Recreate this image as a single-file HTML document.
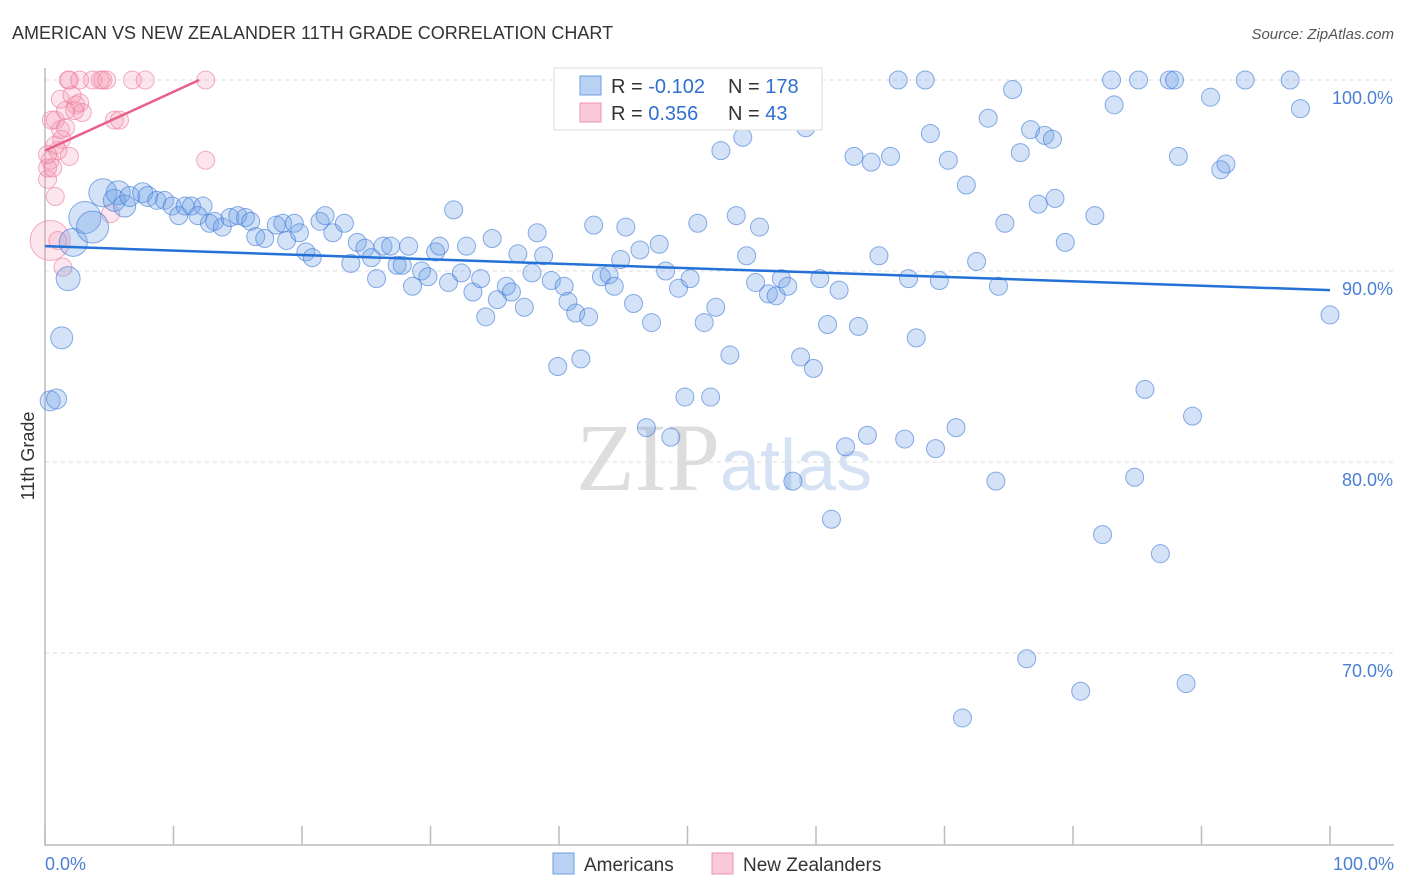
<!DOCTYPE html>
<html><head><meta charset="utf-8">
<style>
body{margin:0;background:#fff;font-family:"Liberation Sans",sans-serif;}
#wrap{position:relative;width:1406px;height:892px;overflow:hidden;}
</style></head>
<body>
<div id="wrap">
<svg id="chart" width="1406" height="892" xmlns="http://www.w3.org/2000/svg">
<text x="12" y="39" font-size="18" fill="#333">AMERICAN VS NEW ZEALANDER 11TH GRADE CORRELATION CHART</text>
<text x="1394" y="39" font-size="15" fill="#555" font-style="italic" text-anchor="end">Source: ZipAtlas.com</text>
<text x="720" y="490" font-size="96" fill="#ddd" font-family="Liberation Serif,serif" text-anchor="end">ZIP</text>
<text x="720" y="490" font-size="72" fill="#d4e2f4" text-anchor="start">atlas</text>
<g id="grid"></g>
<g id="axes"></g>
<g id="pts"></g>
<g id="lines"></g>
<text transform="translate(34,456) rotate(-90)" font-size="18" fill="#333" text-anchor="middle">11th Grade</text>
<text x="45" y="870" font-size="18" fill="#4a7fd4">0.0%</text>
<text x="1394" y="870" font-size="18" fill="#4a7fd4" text-anchor="end">100.0%</text>
<g>
<rect x="554" y="68" width="268" height="62" fill="#fff" stroke="#ddd"/>
<rect x="580" y="76" width="21" height="19" fill="#b9d2f3" stroke="#6d9de0"/>
<rect x="580" y="103" width="21" height="19" fill="#f9c9d7" stroke="#ee94b0"/>
<text x="611" y="93" font-size="20" fill="#333">R = <tspan fill="#2f6fd0">-0.102</tspan></text>
<text x="728" y="93" font-size="20" fill="#333">N = <tspan fill="#2f6fd0">178</tspan></text>
<text x="611" y="120" font-size="20" fill="#333">R = <tspan fill="#2f6fd0"> 0.356</tspan></text>
<text x="728" y="120" font-size="20" fill="#333">N = <tspan fill="#2f6fd0"> 43</tspan></text>
</g>
<g>
<rect x="553" y="853" width="21" height="21" fill="#b9d2f3" stroke="#6d9de0"/>
<text x="584" y="871" font-size="19" fill="#333">Americans</text>
<rect x="712" y="853" width="21" height="21" fill="#f9c9d7" stroke="#ee94b0"/>
<text x="743" y="871" font-size="19" fill="#333">New Zealanders</text>
</g>
</svg>
</div>
<script>
const yTicks=[100,90,80,70];
const yTickLabels=["100.0%","90.0%","80.0%","70.0%"];
const xTicks=[0,10,20,30,40,50,60,70,80,90,100];
const blueX=[0.4,0.9,1.3,1.8,2.2,3.1,3.7,4.5,5.4,5.7,6.2,6.6,7.6,8.0,8.7,9.3,9.9,10.4,10.9,11.4,12.3,11.9,12.8,13.2,13.8,14.4,15.0,15.6,16.0,16.4,17.1,18.0,18.5,18.8,19.4,19.8,20.3,20.8,21.4,21.8,22.4,23.3,23.8,24.3,24.9,25.4,25.8,26.3,26.9,27.4,27.8,28.3,28.6,29.3,29.8,30.4,30.7,31.4,31.8,32.4,32.8,33.3,33.9,34.3,34.8,35.2,35.9,36.3,36.8,37.3,37.9,38.3,38.8,39.4,39.9,40.4,40.7,41.3,41.7,42.3,42.7,43.3,43.9,44.3,44.8,45.2,45.8,46.3,46.8,47.2,47.8,48.3,48.7,49.3,49.8,50.2,50.8,51.3,51.8,52.2,52.6,53.3,53.8,54.3,54.6,55.3,55.6,56.3,56.9,57.3,57.8,58.2,58.8,59.2,59.8,60.3,60.9,61.2,61.8,62.3,62.96,63.3,64.0,64.3,64.9,65.8,66.4,66.9,67.2,67.8,68.5,68.9,69.3,69.6,70.3,70.9,71.4,71.7,72.5,73.4,74.0,74.2,74.7,75.3,75.9,76.4,76.7,77.3,77.8,78.4,78.6,79.4,80.6,81.7,82.3,83.0,83.2,84.8,85.1,85.6,86.8,87.5,87.9,88.2,88.8,89.3,90.7,91.5,91.9,93.4,96.9,97.7,100];
const blueY=[83.2,83.3,86.5,89.6,91.5,92.8,92.3,94.1,93.7,94.1,93.4,93.9,94.1,93.9,93.7,93.7,93.4,92.9,93.4,93.4,93.4,92.9,92.5,92.6,92.3,92.8,92.9,92.8,92.6,91.8,91.7,92.4,92.5,91.6,92.5,92.0,91.0,90.7,92.6,92.9,92.0,92.5,90.4,91.5,91.2,90.7,89.6,91.3,91.3,90.3,90.3,91.3,89.2,90.0,89.7,91.0,91.3,89.4,93.2,89.9,91.3,88.9,89.6,87.6,91.7,88.5,89.2,88.9,90.9,88.1,89.9,92.0,90.8,89.5,85.0,89.2,88.4,87.8,85.4,87.6,92.4,89.7,89.8,89.2,90.6,92.3,88.3,91.1,81.8,87.3,91.4,90.0,81.3,89.1,83.4,89.6,92.5,87.3,83.4,88.1,96.3,85.6,92.9,97.0,90.8,89.4,92.3,88.8,88.7,89.6,89.2,79.0,85.5,97.5,84.9,89.6,87.2,77.0,89.0,80.8,96.0,87.1,81.4,95.7,90.8,96.0,100,81.2,89.6,86.5,100,97.2,80.7,89.5,95.8,81.8,66.6,94.5,90.5,98.0,79.0,89.2,92.5,99.5,96.2,69.7,97.4,93.5,97.1,96.9,93.8,91.5,68.0,92.9,76.2,100,98.7,79.2,100,83.8,75.2,100,100,96.0,68.4,82.4,99.1,95.3,95.6,100,100,98.5,87.7];
const blueSize=[10,10,11,12,14,16,16,14,11,12,11,10,10,10,9,9,9,9,9,9,9,9,9,9,9,9,9];
const pinkX=[0.4,0.2,0.2,0.4,0.6,0.8,0.8,0.8,1.2,1.2,1.0,1.4,1.6,1.8,1.9,1.9,2.1,2.4,2.7,3.7,4.5,4.8,5.1,5.4,5.8,6.8,7.8,12.5,12.5,4.3,2.7,2.9,1.3,1.0,0.5,1.6,2.3,0.2];
const pinkY=[91.6,94.8,95.4,95.8,95.4,93.9,96.6,97.9,99.0,97.4,91.6,90.2,98.4,100,100,96.0,99.2,98.7,100,100,100,100,93.0,97.9,97.9,100,100,100,95.8,100,98.8,98.3,96.9,96.3,97.9,97.5,98.4,96.1];
const pinkSize=[20];
const blueTrend=[91.3,89.0];
const pinkTrend=[96.3,100];
const pinkTrendX=[0,12];

const X0=45,X1=1330,Y100=80,PPU=19.1;
const sx=v=>X0+(X1-X0)*v/100;
const sy=v=>Y100+(100-v)*PPU;
const NS="http://www.w3.org/2000/svg";
function mk(tag,attrs,parent){const e=document.createElementNS(NS,tag);for(const k in attrs)e.setAttribute(k,attrs[k]);parent.appendChild(e);return e;}
const grid=document.getElementById('grid'),axes=document.getElementById('axes'),pts=document.getElementById('pts'),lines=document.getElementById('lines'),svg=document.getElementById('chart');
yTicks.forEach((t,i)=>{
  const l=mk('line',{x1:45,x2:1394,y1:sy(t),y2:sy(t),stroke:'#ddd','stroke-dasharray':'4,4'},grid);
  
  
  const tx=mk('text',{x:1393,y:sy(t)+24,'font-size':18,fill:'#4a7fd4','text-anchor':'end'},svg);
  tx.textContent=yTickLabels[i];
  
  
});
const ya=mk('line',{x1:45,x2:45,y1:68,y2:846,stroke:'#bbb','stroke-width':1.5},axes);


const xa=mk('line',{x1:45,x2:1394,y1:845,y2:845,stroke:'#bbb','stroke-width':1.5},axes);


xTicks.forEach(t=>{
  const l=mk('line',{x1:sx(t),x2:sx(t),y1:826,y2:845,stroke:'#bbb','stroke-width':1.5},axes);
  
  
});
pinkX.forEach((x,i)=>{
  const c=mk('circle',{cx:sx(x),cy:sy(pinkY[i]),r:pinkSize[i]||9,fill:'rgba(244,150,178,0.25)',stroke:'rgba(236,120,155,0.6)','stroke-width':1},pts);
  
  
});
blueX.forEach((x,i)=>{
  const c=mk('circle',{cx:sx(x),cy:sy(blueY[i]),r:blueSize[i]||9,fill:'rgba(110,160,230,0.3)',stroke:'rgba(60,120,215,0.6)','stroke-width':1},pts);
  
  
});
const bl=mk('line',{x1:sx(0),y1:sy(blueTrend[0]),x2:sx(100),y2:sy(blueTrend[1]),stroke:'#2471d8','stroke-width':2.5},lines);


const pl=mk('line',{x1:sx(pinkTrendX[0]),y1:sy(pinkTrend[0]),x2:sx(pinkTrendX[1]),y2:sy(pinkTrend[1]),stroke:'#e8608a','stroke-width':2.5},lines);


</script>
</body></html>
